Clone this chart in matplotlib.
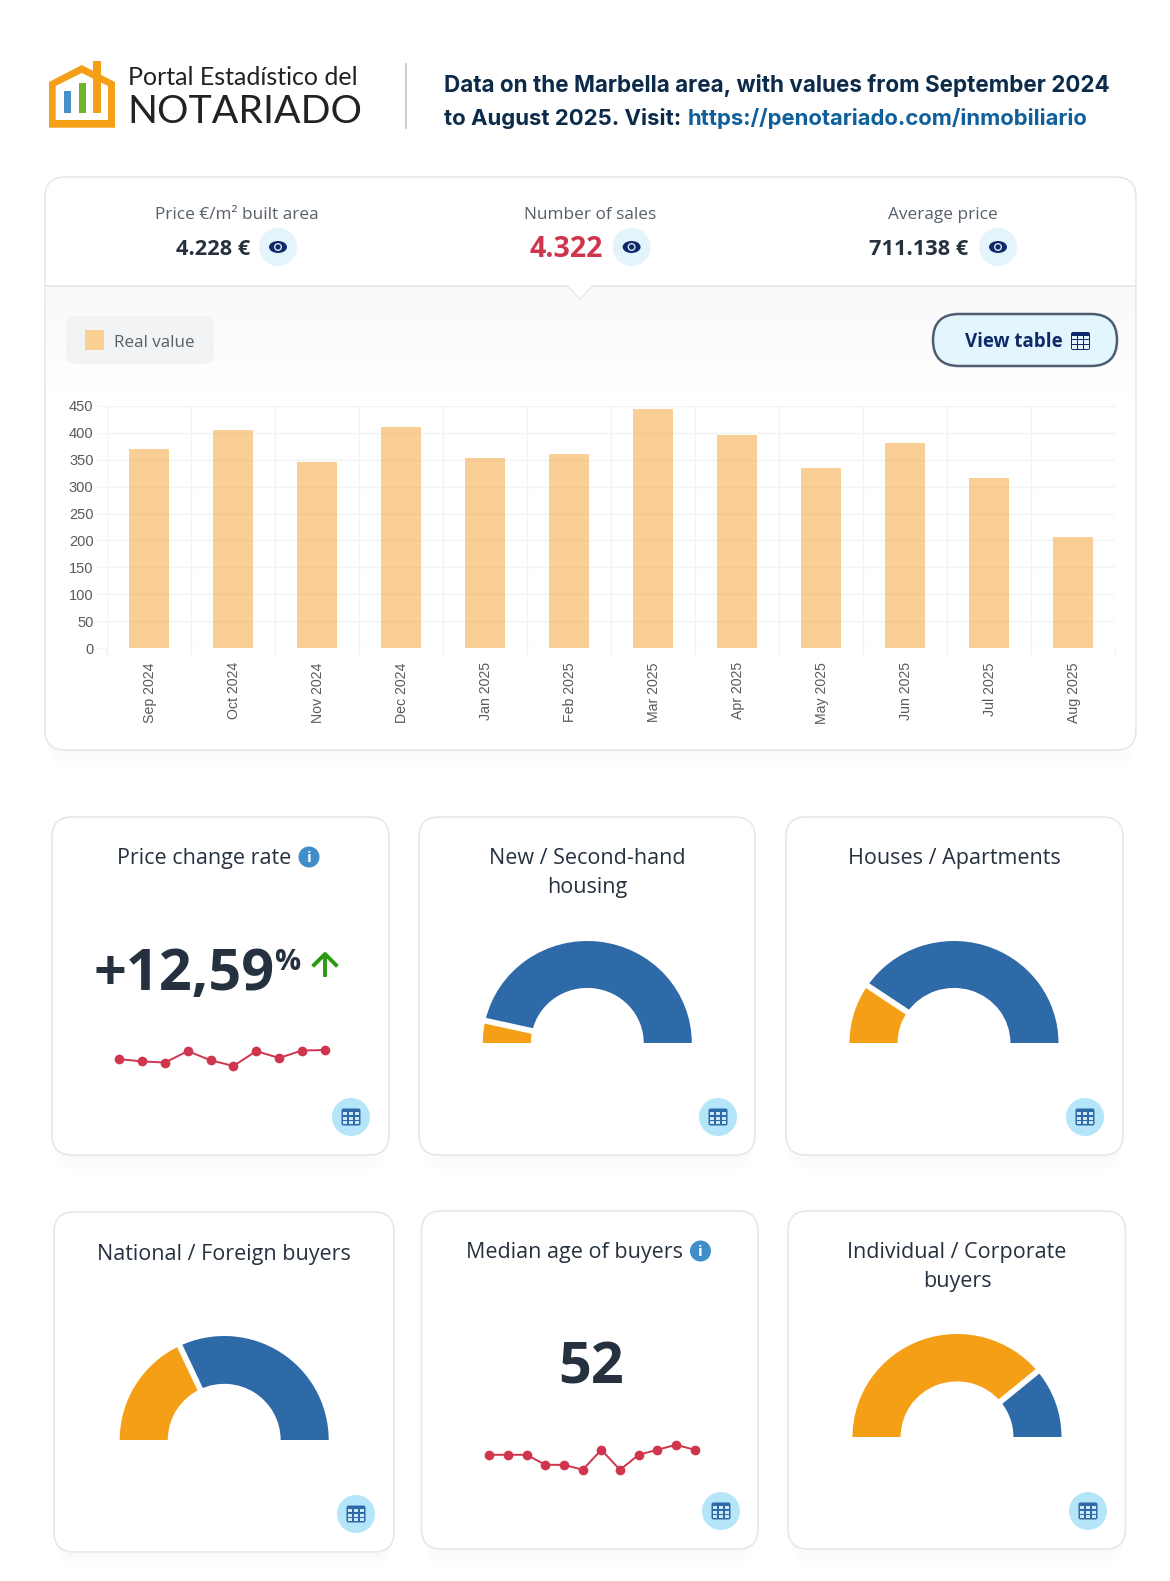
import numpy as np
import matplotlib
matplotlib.use("Agg")
import matplotlib.pyplot as plt
from matplotlib.patches import FancyBboxPatch, Circle, Ellipse, Polygon, Rectangle
from matplotlib.transforms import ScaledTranslation

W, H = 1170, 1581

# monthly sales
months = ["Sep 2024", "Oct 2024", "Nov 2024", "Dec 2024", "Jan 2025", "Feb 2025",
          "Mar 2025", "Apr 2025", "May 2025", "Jun 2025", "Jul 2025", "Aug 2025"]
sales = [370, 405, 346, 411, 353, 360, 444, 395, 334, 380, 316, 207]
y_ticks = [0, 50, 100, 150, 200, 250, 300, 350, 400, 450]

# sparklines
price_rate = [11.0, 10.6, 10.4, 12.4, 10.8, 9.8, 12.4, 11.2, 12.5, 12.59]
median_age = [51, 51, 51, 49, 49, 48, 52, 48, 51, 52, 53, 52]

# share of the orange part in each half donut, percent
new_share = 7
houses_share = 19
national_share = 36
individual_share = 78

ORANGE = "#f59f17"
BLUE = "#2f6aa8"
RED = "#cf364e"
DARK = "#25313f"
NAVY = "#0f2a6b"

fig = plt.figure(figsize=(W / 100, H / 100), dpi=100, facecolor="white")
bg = fig.add_axes([0, 0, 1, 1])
bg.set_xlim(0, W)
bg.set_ylim(H, 0)
bg.axis("off")


def px_axes(x0, y0, x1, y1):
    ax = fig.add_axes([x0 / W, 1 - y1 / H, (x1 - x0) / W, (y1 - y0) / H])
    ax.patch.set_alpha(0)
    return ax


def txt(x, y, s, size, color=DARK, family="Open Sans", weight="normal", ha="center", **kw):
    return bg.text(x, y, s, fontsize=size * 0.72, color=color, family=family,
                   weight=weight, ha=ha, va="baseline", **kw)


def round_box(x0, y0, x1, y1, r, fc="white", ec="#e6e6e6", lw=1.1, z=1, alpha=None):
    p = FancyBboxPatch((x0 + r, y0 + r), x1 - x0 - 2 * r, y1 - y0 - 2 * r,
                       boxstyle=f"round,pad={r},rounding_size={r}",
                       fc=fc, ec=ec, lw=lw, zorder=z, alpha=alpha)
    bg.add_patch(p)


def card(x0, y0, x1, y1, r=20):
    for i in range(6):
        d = 2 + i * 3
        round_box(x0 + 3, y0 + d, x1 - 3, y1 + d, r, fc="#000000", ec="none", lw=0, z=0.5, alpha=0.005)
    round_box(x0, y0, x1, y1, r)


def eye(cx, cy):
    bg.add_patch(Circle((cx, cy), 19, fc="#e3f4fc", ec="none", zorder=3))
    bg.add_patch(Ellipse((cx, cy), 18, 12, fc=NAVY, ec="none", zorder=4))
    bg.add_patch(Circle((cx, cy), 4, fc="#dfe6f2", ec="none", zorder=5))
    bg.add_patch(Circle((cx, cy), 2.6, fc=NAVY, ec="none", zorder=6))


def table_icon(cx, cy, color=BLUE, w=19, h=17, cell="#cfe8f6"):
    round_box(cx - w / 2, cy - h / 2, cx + w / 2, cy + h / 2, 2, fc=color, ec="none", lw=0, z=4)
    cw = (w - 6) / 3
    ch = (h - 7.7) / 3
    for i in range(3):
        for j in range(3):
            bg.add_patch(Rectangle((cx - w / 2 + 1.4 + i * (cw + 1.6), cy - h / 2 + 3.5 + j * (ch + 1.4)),
                                   cw, ch, fc=cell, ec="none", zorder=5))


def table_button(cx, cy):
    bg.add_patch(Circle((cx, cy), 19, fc="#b5e5f9", ec="none", zorder=3))
    table_icon(cx, cy)


def info_icon(cx, cy):
    bg.add_patch(Circle((cx, cy), 10.5, fc="#3f8dc9", ec="none", zorder=3))
    txt(cx, cy + 5.5, "i", 15, color="white", weight="bold", zorder=4)


def gauge(cx, cy, share, rx=104.5, ry=102, ratio=0.54):
    # the reference is a little squashed vertically, so the box is not square
    ax = px_axes(cx - rx, cy - ry, cx + rx, cy + ry)
    ax.pie([share, 100 - share, 100], colors=[ORANGE, BLUE, "none"], startangle=180,
           counterclock=False, radius=1, wedgeprops={"width": 1 - ratio, "linewidth": 0})
    ang = np.radians(180 - share * 1.8)
    ax.plot([0.45 * np.cos(ang), 1.05 * np.cos(ang)], [0.45 * np.sin(ang), 1.05 * np.sin(ang)],
            color="white", lw=4.2, solid_capstyle="butt", clip_on=False)
    ax.set_xlim(-1, 1)
    ax.set_ylim(-1, 1)
    ax.set_aspect("auto")
    ax.axis("off")


def sparkline(x0, x1, y0, y1, values, ymin, ymax):
    ax = px_axes(x0, y0, x1, y1)
    ax.plot(range(len(values)), values, color=RED, lw=1.4, marker="o", ms=7, mew=0, clip_on=False)
    ax.set_xlim(0, len(values) - 1)
    ax.set_ylim(ymin, ymax)
    ax.axis("off")


# header / logo
bg.add_patch(Polygon([(49, 82), (81.7, 65), (115, 82), (115, 127.7), (49, 127.7)], fc=ORANGE, ec="none", zorder=2))
bg.add_patch(Polygon([(55.7, 86), (81.7, 73), (108, 86), (108, 120), (55.7, 120)], fc="white", ec="none", zorder=3))
bg.add_patch(Rectangle((64, 90.7), 7.3, 22, fc="#4a90c8", ec="none", zorder=4))
bg.add_patch(Rectangle((78.7, 83.3), 7.3, 29.4, fc="#6fb52c", ec="none", zorder=4))
bg.add_patch(Rectangle((93.3, 61), 7.4, 51.7, fc=ORANGE, ec="none", zorder=4))
txt(128, 85, "Portal Estadístico del", 25, color="#222222", family="Lato", ha="left")
txt(127, 123, "NOTARIADO", 39.2, color="#222222", family="Lato", ha="left")
bg.plot([406, 406], [64, 128], color="#c8c8c8", lw=1.3, zorder=2)
txt(444, 92, "Data on the Marbella area, with values from September 2024", 22.44, color="#0c2b4a",
    family="Inter", weight="bold", ha="left")
txt(444, 125, "to August 2025. Visit:", 22.2, color="#0c2b4a", family="Inter", weight="bold", ha="left")
txt(688, 125, "https://penotariado.com/inmobiliario", 22, color="#0f5f9b", family="Inter", weight="bold", ha="left")

# top card
card(45, 177, 1136, 750, r=20)
grad = np.linspace(0, 1, 100).reshape(-1, 1)
grad_img = np.dstack([249 + 6 * grad, 249 + 6 * grad, 251 + 4 * grad]) / 255
bg.imshow(grad_img, extent=(46, 1135, 395, 287), aspect="auto", zorder=1.5)
bg.set_xlim(0, W)
bg.set_ylim(H, 0)
bg.plot([46, 1135], [286, 286], color="#e4e4e4", lw=1.1, zorder=2)
bg.add_patch(Polygon([(567, 285), (593, 285), (580, 299)], fc="white", ec="none", zorder=2.1))
bg.plot([567, 580, 593], [286, 299, 286], color="#e8e8e8", lw=1, zorder=2.2)

txt(236.7, 219, "Price €/m² built area", 17.2, color="#56606b")
txt(590, 219, "Number of sales", 17.2, color="#56606b")
txt(943, 219, "Average price", 17.2, color="#56606b")
txt(250, 255, "4.228 €", 21.8, weight="bold", ha="right")
txt(603, 257, "4.322", 28.5, color=RED, weight="bold", ha="right")
txt(968, 255, "711.138 €", 21.8, weight="bold", ha="right")
eye(278, 247)
eye(631.6, 247)
eye(998, 247)

round_box(66, 316, 214, 364, 10, fc="#f2f3f5", ec="none", lw=0, z=2)
bg.add_patch(Rectangle((85, 330), 19, 20, fc="#fbd092", ec="none", zorder=3))
txt(114.5, 347, "Real value", 17, color="#56606b", ha="left", zorder=3)

round_box(933, 314, 1117, 366, 26, fc="#e3f5fd", ec="#4d5e70", lw=1.8, z=2)
txt(965, 347, "View table", 18.8, color=NAVY, weight="bold", ha="left", zorder=3)
table_icon(1080.5, 341, color=NAVY, w=19, h=18, cell="#e3f5fd")

# bar chart
ax = px_axes(106.7, 405.7, 1114.7, 648.3)
x = np.arange(len(months))
ax.bar(x, sales, width=40 / 84, color="#f5a030", alpha=0.5, zorder=3)
ax.set_xlim(-0.5, len(months) - 0.5)
ax.set_ylim(0, 450)
ax.set_yticks(y_ticks)
ax.set_xticks(x)
ax.set_xticklabels(months, rotation=90, family="Liberation Sans", fontsize=10.2, color="#5a5a5a")
ax.set_xticks(np.r_[x - 0.5, x[-1] + 0.5], minor=True)
ax.grid(True, which="major", axis="y", color="#f3f3f3", lw=1, zorder=0)
ax.grid(True, which="minor", axis="x", color="#f3f3f3", lw=1, zorder=0)
ax.tick_params(axis="x", which="major", length=0, pad=10)
ax.tick_params(axis="x", which="minor", length=6, color="#f3f3f3", width=1)
ax.tick_params(axis="y", length=7, color="#f3f3f3", width=1, pad=2.5, labelsize=10.5, labelcolor="#5a5a5a")
for lab in ax.get_yticklabels():
    lab.set_family("Liberation Sans")
for lab in ax.get_xticklabels():
    lab.set_transform(lab.get_transform() + ScaledTranslation(1.5 / 100, 0, fig.dpi_scale_trans))
for sp in ax.spines.values():
    sp.set_visible(False)

# first row of cards
card(52, 817, 389, 1155)
card(419, 817, 755, 1155)
card(786, 817, 1123, 1155)
txt(203.7, 864, "Price change rate", 21.5)
info_icon(309, 857)
txt(93, 990, "+12,59", 57.5, weight="bold", ha="left")
txt(274.5, 970, "%", 29, weight="bold", ha="left")
bg.plot([325, 325], [975, 955], color="#2a9a10", lw=2.8, zorder=3)
bg.plot([314, 325, 336], [965, 954, 965], color="#2a9a10", lw=2.8, zorder=3)
sparkline(119.3, 324.7, 1040, 1076, price_rate, 8.05, 14.34)
table_button(351, 1117)

txt(587.3, 864, "New / Second-hand", 21.5)
txt(587.3, 893, "housing", 21.5)
gauge(587.3, 1043, new_share)
table_button(718, 1117)

txt(954, 864, "Houses / Apartments", 21.5)
gauge(954, 1043, houses_share)
table_button(1085, 1117)

# second row of cards
card(54, 1212, 394, 1552)
card(421.5, 1211, 758, 1549)
card(788, 1211, 1125.5, 1549)
txt(224, 1260, "National / Foreign buyers", 21.5)
gauge(224.2, 1440, national_share, ry=104)
table_button(356, 1514)

txt(574, 1258, "Median age of buyers", 21.5)
info_icon(700.5, 1251)
txt(591, 1383, "52", 57.5, weight="bold")
sparkline(489.3, 694.7, 1430, 1480, median_age, 45.96, 55.96)
table_button(721, 1511)

txt(957, 1258, "Individual / Corporate", 21.5)
txt(957, 1287, "buyers", 21.5)
gauge(957, 1437, individual_share, ry=103)
table_button(1088, 1511)

fig.savefig("out.png", dpi=100, facecolor="white")
